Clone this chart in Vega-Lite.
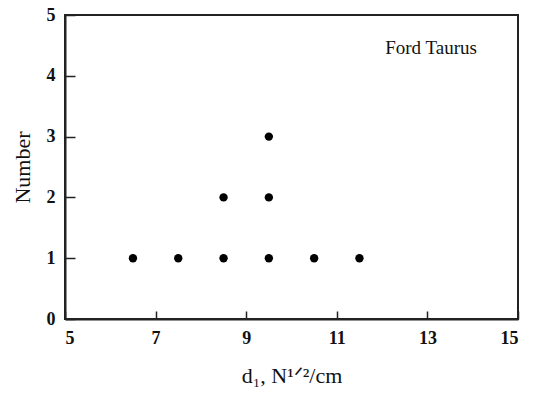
{
  "$schema": "https://vega.github.io/schema/vega-lite/v6.json",
  "width": 453,
  "height": 304,
  "autosize": "none",
  "padding": {"left": 65, "top": 15, "right": 19, "bottom": 76},
  "background": "white",
  "config": {
    "view": {"stroke": "#222", "strokeWidth": 2},
    "font": "Liberation Serif",
    "axis": {"labelFont": "Liberation Serif", "titleFont": "Liberation Serif", "domainColor": "#222", "domainWidth": 2, "tickColor": "#222", "tickWidth": 1.5, "labelColor": "#111", "titleColor": "#111", "grid": false}
  },
  "layer": [
    {
      "data": {"values": [
        {"d": 6.5, "n": 1}, {"d": 7.5, "n": 1}, {"d": 8.5, "n": 1}, {"d": 8.5, "n": 2},
        {"d": 9.5, "n": 1}, {"d": 9.5, "n": 2}, {"d": 9.5, "n": 3}, {"d": 10.5, "n": 1}, {"d": 11.5, "n": 1}
      ]},
      "mark": {"type": "point", "filled": true, "shape": "circle", "size": 70, "color": "#000", "opacity": 1},
      "encoding": {
        "x": {"field": "d", "type": "quantitative", "scale": {"domain": [5, 15], "nice": false, "zero": false},
          "axis": {"values": [5, 7, 9, 11, 13, 15], "format": "d", "tickSize": -8, "labelFontSize": 18, "labelFontWeight": "bold", "labelPadding": 18, "title": "d₁, N¹ᐟ²/cm", "titleFontSize": 22, "titleFontWeight": "normal", "titlePadding": 18}},
        "y": {"field": "n", "type": "quantitative", "scale": {"domain": [0, 5], "nice": false},
          "axis": {"values": [0, 1, 2, 3, 4, 5], "format": "d", "tickSize": -10, "labelFontSize": 18, "labelFontWeight": "bold", "labelPadding": 20, "title": "Number", "titleFontSize": 22, "titleFontWeight": "normal", "titlePadding": 12}}
      }
    },
    {
      "data": {"values": [{"x": 13.08, "y": 4.46, "label": "Ford Taurus"}]},
      "mark": {"type": "text", "fontSize": 19, "font": "Liberation Serif", "color": "#111"},
      "encoding": {
        "x": {"field": "x", "type": "quantitative"},
        "y": {"field": "y", "type": "quantitative"},
        "text": {"field": "label"}
      }
    }
  ]
}
